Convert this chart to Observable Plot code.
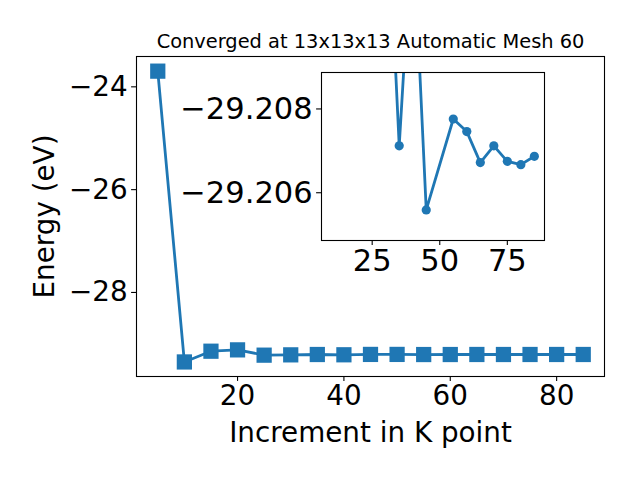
<!DOCTYPE html>
<html><head><meta charset="utf-8">
<script src="https://cdn.jsdelivr.net/npm/d3@7"></script>
<script src="https://cdn.jsdelivr.net/npm/@observablehq/plot@0.6"></script>
<style>
html,body{margin:0;padding:0;background:white;}
#wrap{position:relative;width:640px;height:480px;overflow:hidden;}
#wrap svg{position:absolute;left:0;top:0;}
</style></head><body><div id="wrap"></div>
<script>
const titleText = "Converged at 13x13x13 Automatic Mesh 60";
const xLabel = "Increment in K point";
const yLabel = "Energy (eV)";

const kPoints  = [5, 10, 15, 20, 25, 30, 35, 40, 45, 50, 55, 60, 65, 70, 75, 80, 85];
const energies = [-23.695, -29.352, -29.143, -29.117, -29.22, -29.2139, -29.20712, -29.2125, -29.20559, -29.2055,
                  -29.20776, -29.20746, -29.20672, -29.20712, -29.20675, -29.20667, -29.20687];

const insetK = [25, 30, 35, 40, 45, 55, 60, 65, 70, 75, 80, 85];
const insetE = [-29.22, -29.2139, -29.20712, -29.2125, -29.20559,
                -29.20776, -29.20746, -29.20672, -29.20712, -29.20675, -29.20667, -29.20687];

const mainXTicks = [20, 40, 60, 80];
const mainYTicks = [-28, -26, -24];
const insetXTicks = [25, 50, 75];
const insetYTicks = [-29.208, -29.206];

const blue = "#1f77b4";
const font = "DejaVu Sans, sans-serif";
const minus = s => String(s).replace("-", "\u2212");
const mainData = kPoints.map((k, i) => ({k, e: energies[i]}));
const insetData = insetK.map((k, i) => ({k, e: insetE[i]}));

const main = Plot.plot({
  width: 640, height: 480,
  marginLeft: 136, marginRight: 36, marginTop: 56, marginBottom: 104,
  style: {fontFamily: font, background: "white", color: "black"},
  x: {domain: [1, 89]},
  y: {domain: [-29.635, -23.41]},
  marks: [
    Plot.line(mainData, {x: "k", y: "e", stroke: blue, strokeWidth: 2.8, strokeLinejoin: "round"}),
    Plot.dot(mainData, {x: "k", y: "e", symbol: "square", r: 8.6, fill: blue}),
    Plot.frame({stroke: "black", strokeWidth: 1.1}),
    Plot.axisX({ticks: mainXTicks, tickSize: 4.9, tickPadding: 4, tickFormat: d => minus(d), label: null, fontSize: 27.8, strokeWidth: 1.1}),
    Plot.axisY({ticks: mainYTicks, tickSize: 4.9, tickPadding: 4, tickFormat: d => minus(d), label: null, fontSize: 27.8, strokeWidth: 1.1}),
    Plot.text([titleText], {text: d => d, frameAnchor: "top", textAnchor: "middle", lineAnchor: "bottom", dy: -8.3, fontSize: 19.4}),
    Plot.text([xLabel], {text: d => d, frameAnchor: "bottom", textAnchor: "middle", lineAnchor: "bottom", dy: 65.5, fontSize: 27.8}),
    Plot.text([yLabel], {text: d => d, frameAnchor: "left", textAnchor: "middle", lineAnchor: "bottom", rotate: -90, dx: -83, fontSize: 27.8})
  ]
});

const inset = Plot.plot({
  width: 640, height: 480,
  marginLeft: 321, marginRight: 96, marginTop: 72, marginBottom: 240,
  style: {fontFamily: font, background: "transparent", color: "black"},
  x: {domain: [6.25, 88.75]},
  y: {domain: [-29.20887, -29.20486], reverse: true},
  marks: [
    Plot.frame({fill: "white", stroke: null}),
    Plot.line(insetData, {x: "k", y: "e", stroke: blue, strokeWidth: 2.8, strokeLinejoin: "round", clip: true}),
    Plot.dot(insetData, {x: "k", y: "e", r: 4.6, fill: blue, clip: true}),
    Plot.frame({stroke: "black", strokeWidth: 1.1}),
    Plot.axisX({ticks: insetXTicks, tickSize: 4.9, tickPadding: 4, tickFormat: d => minus(d), label: null, fontSize: 30.5, strokeWidth: 1.1}),
    Plot.axisY({ticks: insetYTicks, tickSize: 4.9, tickPadding: 4, tickFormat: d => minus(d.toFixed(3)), label: null, fontSize: 30.5, strokeWidth: 1.1})
  ]
});

const wrap = document.getElementById("wrap");
wrap.appendChild(main);
wrap.appendChild(inset);
</script></body></html>
